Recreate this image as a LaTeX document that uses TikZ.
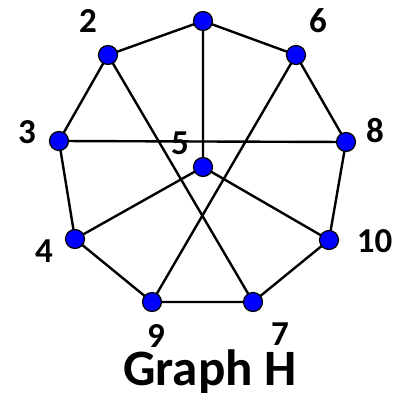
\documentclass[tikz,border=0pt]{standalone}
\usepackage{fontspec}
\setmainfont{Carlito}
\begin{document}
\begin{tikzpicture}[x=1pt,y=-1pt,
  vtx/.style={circle,fill=blue,draw=black,line width=1.2pt,minimum size=19pt,inner sep=0pt},
  edge/.style={line width=2.4pt,black},
  lbl/.style={font=\fontsize{35}{35}\selectfont\bfseries,inner sep=0pt,anchor=base}]
\useasboundingbox (0,0) rectangle (394,395);
\coordinate (pT) at (203,21);
\coordinate (p2) at (108,55);
\coordinate (p6) at (296,55);
\coordinate (p3) at (59,141);
\coordinate (p8) at (346,142);
\coordinate (p5) at (203,167);
\coordinate (p4) at (75,239);
\coordinate (p10) at (329,240);
\coordinate (p9) at (152,302);
\coordinate (p7) at (253,302);
\draw[edge] (pT)--(p2) (pT)--(p6) (pT)--(p5) (p2)--(p3) (p2)--(p7)
  (p6)--(p8) (p6)--(p9) (p3)--(p8) (p3)--(p4) (p8)--(p10)
  (p5)--(p4) (p5)--(p10) (p4)--(p9) (p9)--(p7) (p7)--(p10);
\foreach \n in {T,2,6,3,8,5,4,10,9,7}{\node[vtx] (v\n) at (p\n) {};}
\node[lbl] (l2) at (88,33) {2};
\node[lbl] (l6) at (318,33) {6};
\node[lbl] (l3) at (27,144) {3};
\node[lbl] (l8) at (375,143) {8};
\node[lbl] (l5) at (180,154) {5};
\node[lbl] (l4) at (44,262) {4};
\node[lbl] (l10) at (374.5,252) {10};
\node[lbl] (l9) at (156,347) {9};
\node[lbl] (l7) at (280,345) {7};
\node[font=\fontsize{51}{51}\selectfont\bfseries,inner sep=0pt,anchor=base] (title) at (210,385) {Graph H};
\end{tikzpicture}
\end{document}
